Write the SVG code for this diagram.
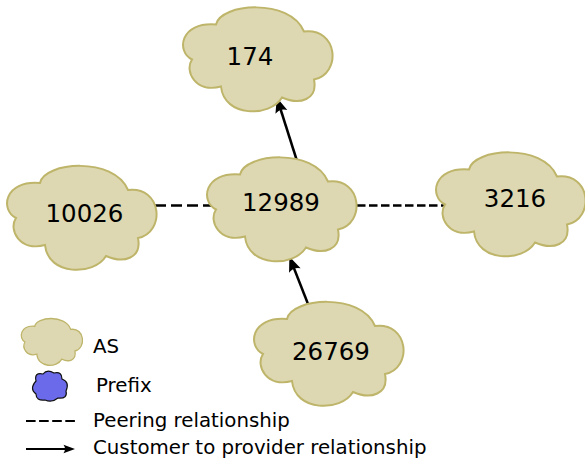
<svg xmlns="http://www.w3.org/2000/svg" xmlns:xlink="http://www.w3.org/1999/xlink" width="585" height="458" viewBox="0 0 585 458">
<style>
.as{fill:#ddd8b1;stroke:#beb56a;stroke-width:2}
.lbl{font-family:"DejaVu Sans",sans-serif;font-size:24.5px;fill:#000;text-anchor:middle}
.leg{font-family:"DejaVu Sans",sans-serif;font-size:19.8px;fill:#000}
.peer{stroke:#000;stroke-width:2.5;fill:none}
.cust{stroke:#000;stroke-width:2.5;fill:none;marker-end:url(#arrow)}
</style>
<defs>
<path id="cloud" d="M -66,0 C -82,-8 -78,-38 -42,-35 C -38,-56 32,-62 46,-28 C 80,-32 84,14 56,20 C 60,40 42,46 24,38 C 12,58 -34,58 -37,27 C -62,34 -74,12 -66,0 Z"/>
<marker id="arrow" markerUnits="userSpaceOnUse" viewBox="-6 -8 18 16" markerWidth="18" markerHeight="16" refX="0" refY="0" orient="auto">
<path d="M 10.5,0 L -4.5,-6.2 Q -0.5,0 -4.5,6.2 Z" fill="#000"/>
</marker>
<marker id="arrowS" markerUnits="userSpaceOnUse" viewBox="-5 -6 15 12" markerWidth="15" markerHeight="12" refX="0" refY="0" orient="auto">
<path d="M 8,0 L -3.5,-4.2 Q -0.5,0 -3.5,4.2 Z" fill="#000"/>
</marker>
</defs>
<rect width="585" height="458" fill="#fff"/>
<g id="connectors">
<line class="peer" x1="155" y1="205.5" x2="216" y2="205.5" stroke-dasharray="11,5"/>
<line class="peer" x1="357" y1="205.5" x2="451" y2="205.5" stroke-dasharray="8.5,3.5"/>
<line class="cust" x1="297" y1="161" x2="280" y2="107.5"/>
<line class="cust" x1="308" y1="304" x2="293.2" y2="266.3"/>
</g>
<g id="as174">
<use xlink:href="#cloud" class="as" transform="translate(258,59.5)"/>
<text class="lbl" x="250" y="65">174</text>
</g>
<g id="as12989">
<use xlink:href="#cloud" class="as" transform="translate(282,209.5)"/>
<text class="lbl" x="281" y="211">12989</text>
</g>
<g id="as10026">
<use xlink:href="#cloud" class="as" transform="translate(82,218)"/>
<text class="lbl" x="84.5" y="222">10026</text>
</g>
<g id="as3216">
<use xlink:href="#cloud" class="as" transform="translate(511,204.5)"/>
<text class="lbl" x="515" y="207">3216</text>
</g>
<g id="as26769">
<use xlink:href="#cloud" class="as" transform="translate(329,354)"/>
<text class="lbl" x="331" y="360">26769</text>
</g>
<g id="legend">
<use xlink:href="#cloud" class="as" transform="translate(52,342) scale(0.41,0.45)" style="stroke-width:3"/>
<text class="leg" x="93" y="353">AS</text>
<path d="M 36,381 Q 34,372 43,374 Q 47,369 54,373 Q 62,371 62,379 Q 70,382 66,391 Q 68,399 58,398 Q 52,403 45,400 Q 36,401 36,394 Q 29,389 36,381 Z" fill="#6a6aea" stroke="#111" stroke-width="1.2"/>
<text class="leg" x="96" y="392">Prefix</text>
<line x1="26" y1="421" x2="76" y2="421" stroke="#000" stroke-width="2" stroke-dasharray="9.6,3.5"/>
<text class="leg" x="93" y="427">Peering relationship</text>
<line x1="26" y1="449" x2="67" y2="449" stroke="#000" stroke-width="2" marker-end="url(#arrowS)"/>
<text class="leg" x="93" y="454">Customer to provider relationship</text>
</g>
</svg>
